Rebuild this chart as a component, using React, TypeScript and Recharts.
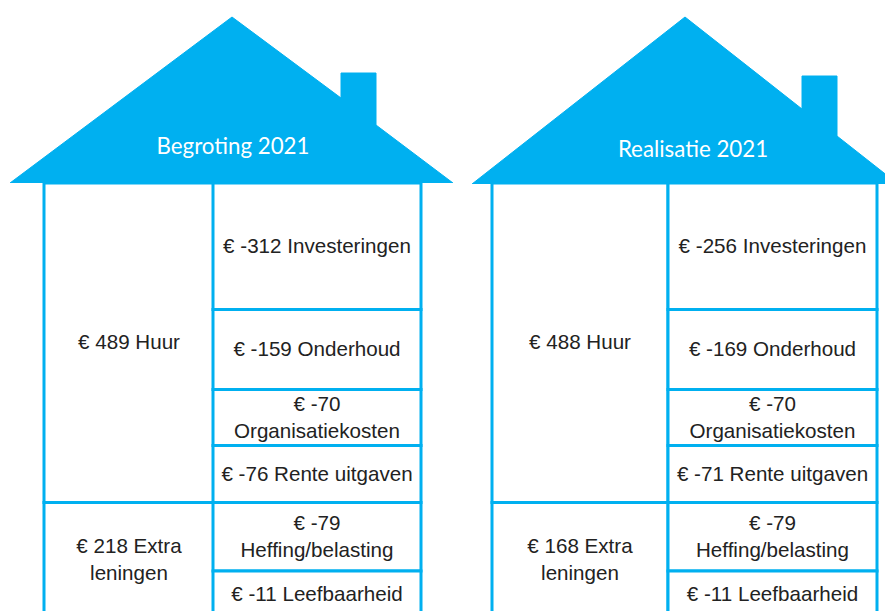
import { Area, AreaChart, Bar, BarChart, LabelList, ReferenceDot, XAxis, YAxis } from "recharts";

const inkomstenPosten = ["Huur", "Extra\nleningen"];
const kostenPosten = ["Investeringen", "Onderhoud", "\nOrganisatiekosten", "Rente uitgaven", "\nHeffing/belasting", "Leefbaarheid"];

const begrotingInkomsten = [489, 218];
const begrotingKosten = [-312, -159, -70, -76, -79, -11];
const realisatieInkomsten = [488, 168];
const realisatieKosten = [-256, -169, -70, -71, -79, -11];

// cell heights, they do not follow the amounts
const inkomstenVakken = [319.5, 114];
const kostenVakken = [126.5, 80, 56, 57, 68.5, 46];

// roof outline, the double x values are the chimney
const begrotingDakX = [10, 232, 341, 341, 376, 376, 453];
const begrotingDakY = [0, 166, 85, 110, 110, 58, 0];
const realisatieDakX = [472, 685, 802, 802, 837, 837, 898];
const realisatieDakY = [0, 167, 75, 108, 108, 48, 0];

const BLUE = "#00b0f0";
const PAD = 4;

const CellLabel = ({ x, y, width, height, value }: any) => {
  const lines = String(value).split("\n").map((l) => l.trim());
  const cx = x + width / 2;
  const cy = y + height / 2;
  return (
    <text x={cx} textAnchor="middle" fontFamily="Liberation Sans" fontSize={20.6} fill="#222">
      {lines.map((line, i) => (
        <tspan key={i} x={cx} y={cy + 6.5 + (i - (lines.length - 1) / 2) * 27}>
          {line}
        </tspan>
      ))}
    </text>
  );
};

const Column = ({ left, top, width, amounts, names, cells }: any) => {
  const total = cells.reduce((a: number, b: number) => a + b, 0);
  const row: any = {};
  cells.forEach((c: number, i: number) => {
    row[`vak${i}`] = c;
    row[`tekst${i}`] = `€ ${amounts[i]} ${names[i]}`;
  });
  return (
    <div style={{ position: "absolute", left: left - PAD, top: top - PAD }}>
      <BarChart
        width={width + PAD * 2}
        height={total + PAD * 2}
        data={[row]}
        barCategoryGap={0}
        margin={{ top: PAD, right: PAD, bottom: PAD, left: PAD }}
      >
        <XAxis type="category" hide />
        <YAxis type="number" hide reversed domain={[0, total]} />
        {cells.map((_: number, i: number) => (
          <Bar
            key={i}
            dataKey={`vak${i}`}
            stackId="huis"
            fill="#fff"
            stroke={BLUE}
            strokeWidth={3}
            isAnimationActive={false}
          >
            <LabelList dataKey={`tekst${i}`} content={<CellLabel />} />
          </Bar>
        ))}
      </BarChart>
    </div>
  );
};

const Roof = ({ left, width, height, xs, ys, title, titleX, titleY }: any) => {
  const data = xs.map((x: number, i: number) => ({ x, y: ys[i] }));
  return (
    <div style={{ position: "absolute", left, top: 0 }}>
      <AreaChart width={width} height={height} data={data} margin={{ top: 0, right: 0, bottom: 0, left: 0 }}>
        <XAxis type="number" dataKey="x" hide domain={[left, left + width]} />
        <YAxis type="number" hide domain={[0, height]} />
        <Area
          type="linear"
          dataKey="y"
          fill={BLUE}
          fillOpacity={1}
          stroke={BLUE}
          strokeWidth={1}
          dot={false}
          activeDot={false}
          isAnimationActive={false}
        />
        <ReferenceDot
          x={titleX}
          y={height - titleY}
          r={0}
          fill="none"
          stroke="none"
          label={{ value: title, position: "center", fill: "#fff", fontSize: 22.3, fontFamily: "Lato" }}
        />
      </AreaChart>
    </div>
  );
};

export default function App() {
  return (
    <div style={{ position: "absolute", left: 0, top: 0, width: 885, height: 611, overflow: "hidden", background: "#fff" }}>
      <Column left={43.5} top={183} width={169.5} amounts={begrotingInkomsten} names={inkomstenPosten} cells={inkomstenVakken} />
      <Column left={213} top={183} width={208} amounts={begrotingKosten} names={kostenPosten} cells={kostenVakken} />
      <Column left={491.5} top={183} width={176} amounts={realisatieInkomsten} names={inkomstenPosten} cells={inkomstenVakken} />
      <Column left={667.5} top={183} width={208.5} amounts={realisatieKosten} names={kostenPosten} cells={kostenVakken} />
      <Roof left={0} width={465} height={183} xs={begrotingDakX} ys={begrotingDakY} title="Begroting 2021" titleX={233} titleY={146} />
      <Roof left={465} width={440} height={184} xs={realisatieDakX} ys={realisatieDakY} title="Realisatie 2021" titleX={693} titleY={149} />
    </div>
  );
}
